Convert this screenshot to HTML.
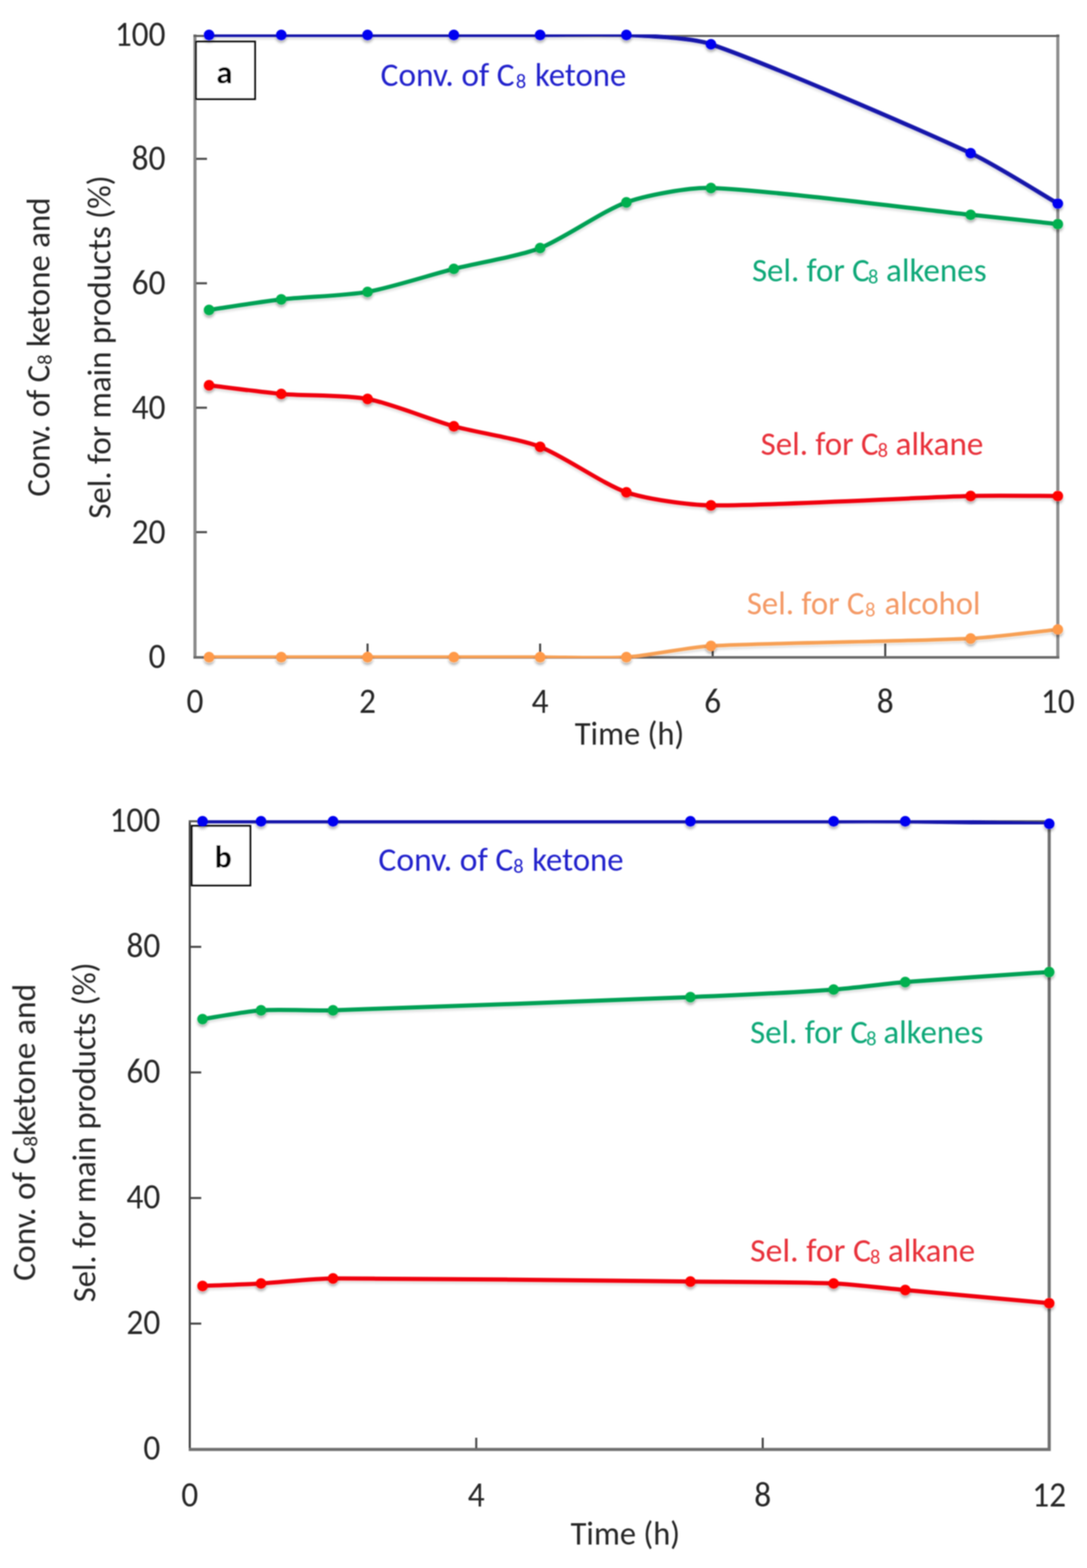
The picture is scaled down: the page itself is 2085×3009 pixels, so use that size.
<!DOCTYPE html>
<html><head><meta charset="utf-8"><title>Conversion of C8 ketone and selectivity for main products vs time</title>
<style>
html,body{margin:0;padding:0;background:#fff;}
svg{display:block;}
text{font-family:Carlito, 'Liberation Sans', sans-serif;}
</style></head><body>
<svg width="2085" height="3009" viewBox="0 0 2085 3009">
<defs>
<filter id="sh" x="-50%" y="-50%" width="200%" height="200%">
<feDropShadow dx="0" dy="5" stdDeviation="2.5" flood-color="#000" flood-opacity="0.3"/>
</filter>
<filter id="shl" x="-5%" y="-20%" width="110%" height="140%">
<feDropShadow dx="0" dy="4" stdDeviation="2.5" flood-color="#000" flood-opacity="0.15"/>
</filter>
<filter id="soft" filterUnits="userSpaceOnUse" x="0" y="0" width="2085" height="3009">
<feGaussianBlur stdDeviation="0.9"/>
</filter>
<clipPath id="ca"><rect x="374" y="66" width="1655" height="1197"/></clipPath>
<clipPath id="cb"><rect x="364" y="1574" width="1648.5" height="1207"/></clipPath>
</defs>
<rect width="2085" height="3009" fill="#fff"/>
<g filter="url(#soft)">
<!-- chart a -->
<path d="M374,1264 V66" fill="none" stroke="#8a8a8a" stroke-width="6"/>
<path d="M2029,1264 V66" fill="none" stroke="#8e8e8e" stroke-width="6"/>
<path d="M371,69 H2032" fill="none" stroke="#5c5c5c" stroke-width="4"/>
<path d="M371,1261.5 H2032" fill="none" stroke="#6a6a6a" stroke-width="5"/>
<g stroke="#4a4a4a" stroke-width="4"><line x1="376" y1="1021.2" x2="397" y2="1021.2"/><line x1="376" y1="782.4" x2="397" y2="782.4"/><line x1="376" y1="543.6" x2="397" y2="543.6"/><line x1="376" y1="304.8" x2="397" y2="304.8"/><line x1="705.0" y1="1259" x2="705.0" y2="1235"/><line x1="1036.0" y1="1259" x2="1036.0" y2="1235"/><line x1="1367.0" y1="1259" x2="1367.0" y2="1235"/><line x1="1698.0" y1="1259" x2="1698.0" y2="1235"/></g>
<text x="317.5" y="87.5" font-size="67.5" fill="#262626" text-anchor="end" textLength="97.3" lengthAdjust="spacingAndGlyphs">100</text>
<text x="317.5" y="326.3" font-size="67.5" fill="#262626" text-anchor="end" textLength="64.9" lengthAdjust="spacingAndGlyphs">80</text>
<text x="317.5" y="565.1" font-size="67.5" fill="#262626" text-anchor="end" textLength="64.9" lengthAdjust="spacingAndGlyphs">60</text>
<text x="317.5" y="803.9" font-size="67.5" fill="#262626" text-anchor="end" textLength="64.9" lengthAdjust="spacingAndGlyphs">40</text>
<text x="317.5" y="1042.7" font-size="67.5" fill="#262626" text-anchor="end" textLength="64.9" lengthAdjust="spacingAndGlyphs">20</text>
<text x="317.5" y="1281.5" font-size="67.5" fill="#262626" text-anchor="end" textLength="32.4" lengthAdjust="spacingAndGlyphs">0</text>
<text x="374.0" y="1368.0" font-size="67.5" fill="#262626" text-anchor="middle" textLength="32.4" lengthAdjust="spacingAndGlyphs">0</text>
<text x="705.0" y="1368.0" font-size="67.5" fill="#262626" text-anchor="middle" textLength="32.4" lengthAdjust="spacingAndGlyphs">2</text>
<text x="1036.0" y="1368.0" font-size="67.5" fill="#262626" text-anchor="middle" textLength="32.4" lengthAdjust="spacingAndGlyphs">4</text>
<text x="1367.0" y="1368.0" font-size="67.5" fill="#262626" text-anchor="middle" textLength="32.4" lengthAdjust="spacingAndGlyphs">6</text>
<text x="1698.0" y="1368.0" font-size="67.5" fill="#262626" text-anchor="middle" textLength="32.4" lengthAdjust="spacingAndGlyphs">8</text>
<text x="2029.0" y="1368.0" font-size="67.5" fill="#262626" text-anchor="middle" textLength="64.9" lengthAdjust="spacingAndGlyphs">10</text>
<text x="1207.5" y="1429.0" font-size="64.0" fill="#262626" text-anchor="middle" textLength="210.0" lengthAdjust="spacingAndGlyphs">Time (h)</text>
<g transform="translate(95.0,666.0) rotate(-90)"><text x="0" y="0" font-size="63" fill="#262626" text-anchor="middle" textLength="574.0" lengthAdjust="spacingAndGlyphs">Conv. of C<tspan font-size="39" dy="4">8</tspan><tspan dy="-4"> ketone and</tspan></text></g>
<g transform="translate(212.0,666.0) rotate(-90)"><text x="0" y="0" font-size="63" fill="#262626" text-anchor="middle" textLength="659.0" lengthAdjust="spacingAndGlyphs">Sel. for main products (%)</text></g>
<rect x="376" y="80" width="113" height="110" fill="#fff" stroke="#111" stroke-width="4"/>
<text x="430.5" y="160.0" font-size="63.0" fill="#000" text-anchor="middle" font-weight="bold">a</text>
<g clip-path="url(#ca)"><path d="M401.0,1261.0 C424.1,1261.0 504.9,1261.0 539.5,1261.0 C580.9,1261.0 663.6,1261.0 705.0,1261.0 C746.4,1261.0 829.1,1261.0 870.5,1261.0 C911.9,1261.0 994.6,1261.0 1036.0,1261.0 C1077.4,1261.0 1160.2,1263.7 1201.5,1261.0 C1242.3,1258.3 1322.8,1241.7 1363.7,1239.5 C1473.7,1233.5 1751.0,1230.5 1861.8,1225.2 C1903.8,1223.2 2001.1,1210.8 2029.0,1207.9" fill="none" stroke="#f7a055" stroke-width="7" stroke-linejoin="round" filter="url(#shl)"/></g>
<g fill="#ff9a48" filter="url(#sh)"><circle cx="401.0" cy="1261.0" r="10.2"/><circle cx="539.5" cy="1261.0" r="10.2"/><circle cx="705.0" cy="1261.0" r="10.2"/><circle cx="870.5" cy="1261.0" r="10.2"/><circle cx="1036.0" cy="1261.0" r="10.2"/><circle cx="1201.5" cy="1261.0" r="10.2"/><circle cx="1363.7" cy="1239.5" r="10.2"/><circle cx="1861.8" cy="1225.2" r="10.2"/><circle cx="2029.0" cy="1207.9" r="10.2"/></g>
<g clip-path="url(#ca)"><path d="M401.0,739.2 C424.1,742.0 504.7,752.9 539.5,755.9 C580.8,759.5 664.3,757.8 705.0,765.5 C747.7,773.5 828.7,806.4 870.5,818.0 C911.5,829.4 996.3,842.2 1036.0,857.4 C1079.7,874.1 1157.3,929.4 1201.5,944.6 C1240.3,957.9 1322.7,969.2 1363.7,969.7 C1473.7,970.9 1751.0,954.7 1861.8,951.8 C1903.6,950.6 2001.1,951.8 2029.0,951.8" fill="none" stroke="#f00010" stroke-width="8" stroke-linejoin="round" filter="url(#shl)"/></g>
<g fill="#ff0000" filter="url(#sh)"><circle cx="401.0" cy="739.2" r="10.2"/><circle cx="539.5" cy="755.9" r="10.2"/><circle cx="705.0" cy="765.5" r="10.2"/><circle cx="870.5" cy="818.0" r="10.2"/><circle cx="1036.0" cy="857.4" r="10.2"/><circle cx="1201.5" cy="944.6" r="10.2"/><circle cx="1363.7" cy="969.7" r="10.2"/><circle cx="1861.8" cy="951.8" r="10.2"/><circle cx="2029.0" cy="951.8" r="10.2"/></g>
<g clip-path="url(#ca)"><path d="M401.0,594.7 C424.1,591.4 504.7,578.4 539.5,574.5 C580.8,569.8 664.1,567.4 705.0,560.1 C747.2,552.7 829.0,526.5 870.5,515.9 C911.8,505.5 996.3,491.3 1036.0,475.9 C1079.7,459.1 1157.3,403.7 1201.5,388.2 C1240.3,374.5 1322.6,359.2 1363.7,360.7 C1473.7,364.7 1751.0,400.5 1861.8,412.1 C1903.6,416.4 2001.1,427.0 2029.0,430.0" fill="none" stroke="#00a055" stroke-width="8" stroke-linejoin="round" filter="url(#shl)"/></g>
<g fill="#00b050" filter="url(#sh)"><circle cx="401.0" cy="594.7" r="10.2"/><circle cx="539.5" cy="574.5" r="10.2"/><circle cx="705.0" cy="560.1" r="10.2"/><circle cx="870.5" cy="515.9" r="10.2"/><circle cx="1036.0" cy="475.9" r="10.2"/><circle cx="1201.5" cy="388.2" r="10.2"/><circle cx="1363.7" cy="360.7" r="10.2"/><circle cx="1861.8" cy="412.1" r="10.2"/><circle cx="2029.0" cy="430.0" r="10.2"/></g>
<g clip-path="url(#ca)"><path d="M401.0,67.0 C424.1,67.0 504.9,67.0 539.5,67.0 C580.9,67.0 663.6,67.0 705.0,67.0 C746.4,67.0 829.1,67.0 870.5,67.0 C911.9,67.0 994.6,67.0 1036.0,67.0 C1077.4,67.0 1160.2,64.7 1201.5,67.0 C1242.2,69.2 1325.1,71.7 1363.7,84.9 C1473.7,122.7 1751.0,242.9 1861.8,293.9 C1905.7,314.0 2001.1,374.5 2029.0,390.6" fill="none" stroke="#1212aa" stroke-width="8" stroke-linejoin="round" filter="url(#shl)"/></g>
<g fill="#0000f0" filter="url(#sh)"><circle cx="401.0" cy="67.0" r="10.2"/><circle cx="539.5" cy="67.0" r="10.2"/><circle cx="705.0" cy="67.0" r="10.2"/><circle cx="870.5" cy="67.0" r="10.2"/><circle cx="1036.0" cy="67.0" r="10.2"/><circle cx="1201.5" cy="67.0" r="10.2"/><circle cx="1363.7" cy="84.9" r="10.2"/><circle cx="1861.8" cy="293.9" r="10.2"/><circle cx="2029.0" cy="390.6" r="10.2"/></g>
<text x="730.1" y="164.5" font-size="63.0" fill="#2424cc" textLength="256.8" lengthAdjust="spacingAndGlyphs">Conv. of C</text>
<text x="989.4" y="168.5" font-size="39.0" fill="#2424cc">8</text>
<text x="1026.2" y="164.5" font-size="63.0" fill="#2424cc" textLength="174.9" lengthAdjust="spacingAndGlyphs">ketone</text>
<text x="1442.4" y="539.5" font-size="63.0" fill="#10a878" textLength="225.8" lengthAdjust="spacingAndGlyphs">Sel. for C</text>
<text x="1665.0" y="543.5" font-size="39.0" fill="#10a878">8</text>
<text x="1699.5" y="539.5" font-size="63.0" fill="#10a878" textLength="193.0" lengthAdjust="spacingAndGlyphs">alkenes</text>
<text x="1459.1" y="872.7" font-size="63.0" fill="#e8303a" textLength="226.1" lengthAdjust="spacingAndGlyphs">Sel. for C</text>
<text x="1683.4" y="876.7" font-size="39.0" fill="#e8303a">8</text>
<text x="1717.7" y="872.7" font-size="63.0" fill="#e8303a" textLength="168.6" lengthAdjust="spacingAndGlyphs">alkane</text>
<text x="1432.4" y="1179.0" font-size="63.0" fill="#f49a66" textLength="225.8" lengthAdjust="spacingAndGlyphs">Sel. for C</text>
<text x="1659.4" y="1183.0" font-size="39.0" fill="#f49a66">8</text>
<text x="1696.8" y="1179.0" font-size="63.0" fill="#f49a66" textLength="183.8" lengthAdjust="spacingAndGlyphs">alcohol</text>
<!-- chart b -->
<path d="M364,1574 V2781.5" fill="none" stroke="#444" stroke-width="4"/>
<path d="M362,1576 H2012.5" fill="none" stroke="#5c5c5c" stroke-width="4"/>
<path d="M362,2781.5 H2012.5 V1576" fill="none" stroke="#707070" stroke-width="6"/>
<g stroke="#4a4a4a" stroke-width="4"><line x1="366" y1="2540.0" x2="386" y2="2540.0"/><line x1="366" y1="2299.0" x2="386" y2="2299.0"/><line x1="366" y1="2058.0" x2="386" y2="2058.0"/><line x1="366" y1="1817.0" x2="386" y2="1817.0"/><line x1="913.5" y1="2779" x2="913.5" y2="2759"/><line x1="1463.0" y1="2779" x2="1463.0" y2="2759"/></g>
<text x="307.5" y="1595.5" font-size="67.5" fill="#262626" text-anchor="end" textLength="97.3" lengthAdjust="spacingAndGlyphs">100</text>
<text x="307.5" y="1836.5" font-size="67.5" fill="#262626" text-anchor="end" textLength="64.9" lengthAdjust="spacingAndGlyphs">80</text>
<text x="307.5" y="2077.5" font-size="67.5" fill="#262626" text-anchor="end" textLength="64.9" lengthAdjust="spacingAndGlyphs">60</text>
<text x="307.5" y="2318.5" font-size="67.5" fill="#262626" text-anchor="end" textLength="64.9" lengthAdjust="spacingAndGlyphs">40</text>
<text x="307.5" y="2559.5" font-size="67.5" fill="#262626" text-anchor="end" textLength="64.9" lengthAdjust="spacingAndGlyphs">20</text>
<text x="307.5" y="2800.5" font-size="67.5" fill="#262626" text-anchor="end" textLength="32.4" lengthAdjust="spacingAndGlyphs">0</text>
<text x="364.0" y="2890.5" font-size="67.5" fill="#262626" text-anchor="middle" textLength="32.4" lengthAdjust="spacingAndGlyphs">0</text>
<text x="913.5" y="2890.5" font-size="67.5" fill="#262626" text-anchor="middle" textLength="32.4" lengthAdjust="spacingAndGlyphs">4</text>
<text x="1463.0" y="2890.5" font-size="67.5" fill="#262626" text-anchor="middle" textLength="32.4" lengthAdjust="spacingAndGlyphs">8</text>
<text x="2012.5" y="2890.5" font-size="67.5" fill="#262626" text-anchor="middle" textLength="64.9" lengthAdjust="spacingAndGlyphs">12</text>
<text x="1199.5" y="2963.5" font-size="64.0" fill="#262626" text-anchor="middle" textLength="210.0" lengthAdjust="spacingAndGlyphs">Time (h)</text>
<g transform="translate(67.5,2173.0) rotate(-90)"><text x="0" y="0" font-size="63" fill="#262626" text-anchor="middle" textLength="570.0" lengthAdjust="spacingAndGlyphs">Conv. of C<tspan font-size="39" dy="4">8</tspan><tspan dy="-4">ketone and</tspan></text></g>
<g transform="translate(183.0,2173.0) rotate(-90)"><text x="0" y="0" font-size="63" fill="#262626" text-anchor="middle" textLength="652.0" lengthAdjust="spacingAndGlyphs">Sel. for main products (%)</text></g>
<rect x="368" y="1585" width="112" height="114" fill="#fff" stroke="#111" stroke-width="4"/>
<text x="428.0" y="1665.0" font-size="61.0" fill="#000" text-anchor="middle" font-weight="bold">b</text>
<g clip-path="url(#cb)"><path d="M388.5,2467.7 C407.2,2466.9 472.7,2464.5 500.7,2462.9 C535.2,2460.9 604.2,2453.4 638.8,2453.2 C776.0,2452.6 1164.2,2457.7 1324.3,2459.3 C1392.9,2460.0 1530.4,2460.2 1599.0,2462.9 C1633.5,2464.2 1702.0,2472.4 1736.4,2475.5 C1805.3,2481.9 1966.5,2496.6 2012.5,2500.8" fill="none" stroke="#f00010" stroke-width="8" stroke-linejoin="round" filter="url(#shl)"/></g>
<g fill="#ff0000" filter="url(#sh)"><circle cx="388.5" cy="2467.7" r="10.2"/><circle cx="500.7" cy="2462.9" r="10.2"/><circle cx="638.8" cy="2453.2" r="10.2"/><circle cx="1324.3" cy="2459.3" r="10.2"/><circle cx="1599.0" cy="2462.9" r="10.2"/><circle cx="1736.4" cy="2475.5" r="10.2"/><circle cx="2012.5" cy="2500.8" r="10.2"/></g>
<g clip-path="url(#cb)"><path d="M388.5,1955.6 C407.2,1952.8 472.4,1940.6 500.7,1938.7 C535.1,1936.4 604.3,1939.8 638.8,1938.7 C776.0,1934.5 1164.2,1920.0 1324.3,1913.4 C1393.0,1910.6 1530.4,1903.8 1599.0,1898.9 C1633.5,1896.5 1702.0,1887.3 1736.4,1884.5 C1805.3,1878.9 1966.5,1868.4 2012.5,1865.2" fill="none" stroke="#00a055" stroke-width="8" stroke-linejoin="round" filter="url(#shl)"/></g>
<g fill="#00b050" filter="url(#sh)"><circle cx="388.5" cy="1955.6" r="10.2"/><circle cx="500.7" cy="1938.7" r="10.2"/><circle cx="638.8" cy="1938.7" r="10.2"/><circle cx="1324.3" cy="1913.4" r="10.2"/><circle cx="1599.0" cy="1898.9" r="10.2"/><circle cx="1736.4" cy="1884.5" r="10.2"/><circle cx="2012.5" cy="1865.2" r="10.2"/></g>
<g clip-path="url(#cb)"><path d="M388.5,1576.0 C407.2,1576.0 472.6,1576.0 500.7,1576.0 C535.2,1576.0 604.2,1576.0 638.8,1576.0 C776.0,1576.0 1164.2,1576.0 1324.3,1576.0 C1392.9,1576.0 1530.3,1576.0 1599.0,1576.0 C1633.3,1576.0 1702.0,1575.6 1736.4,1576.0 C1805.3,1576.8 1966.5,1580.0 2012.5,1580.8" fill="none" stroke="#1212aa" stroke-width="8" stroke-linejoin="round" filter="url(#shl)"/></g>
<g fill="#0000f0" filter="url(#sh)"><circle cx="388.5" cy="1576.0" r="10.2"/><circle cx="500.7" cy="1576.0" r="10.2"/><circle cx="638.8" cy="1576.0" r="10.2"/><circle cx="1324.3" cy="1576.0" r="10.2"/><circle cx="1599.0" cy="1576.0" r="10.2"/><circle cx="1736.4" cy="1576.0" r="10.2"/><circle cx="2012.5" cy="1580.8" r="10.2"/></g>
<text x="725.8" y="1671.0" font-size="63.0" fill="#2424cc" textLength="258.8" lengthAdjust="spacingAndGlyphs">Conv. of C</text>
<text x="984.6" y="1675.0" font-size="39.0" fill="#2424cc">8</text>
<text x="1020.8" y="1671.0" font-size="63.0" fill="#2424cc" textLength="175.3" lengthAdjust="spacingAndGlyphs">ketone</text>
<text x="1438.8" y="2002.0" font-size="63.0" fill="#10a878" textLength="225.9" lengthAdjust="spacingAndGlyphs">Sel. for C</text>
<text x="1661.4" y="2006.0" font-size="39.0" fill="#10a878">8</text>
<text x="1694.5" y="2002.0" font-size="63.0" fill="#10a878" textLength="191.6" lengthAdjust="spacingAndGlyphs">alkenes</text>
<text x="1438.8" y="2420.5" font-size="63.0" fill="#e8303a" textLength="231.9" lengthAdjust="spacingAndGlyphs">Sel. for C</text>
<text x="1668.8" y="2424.5" font-size="39.0" fill="#e8303a">8</text>
<text x="1703.2" y="2420.5" font-size="63.0" fill="#e8303a" textLength="167.1" lengthAdjust="spacingAndGlyphs">alkane</text>
</g>
</svg>
</body></html>
